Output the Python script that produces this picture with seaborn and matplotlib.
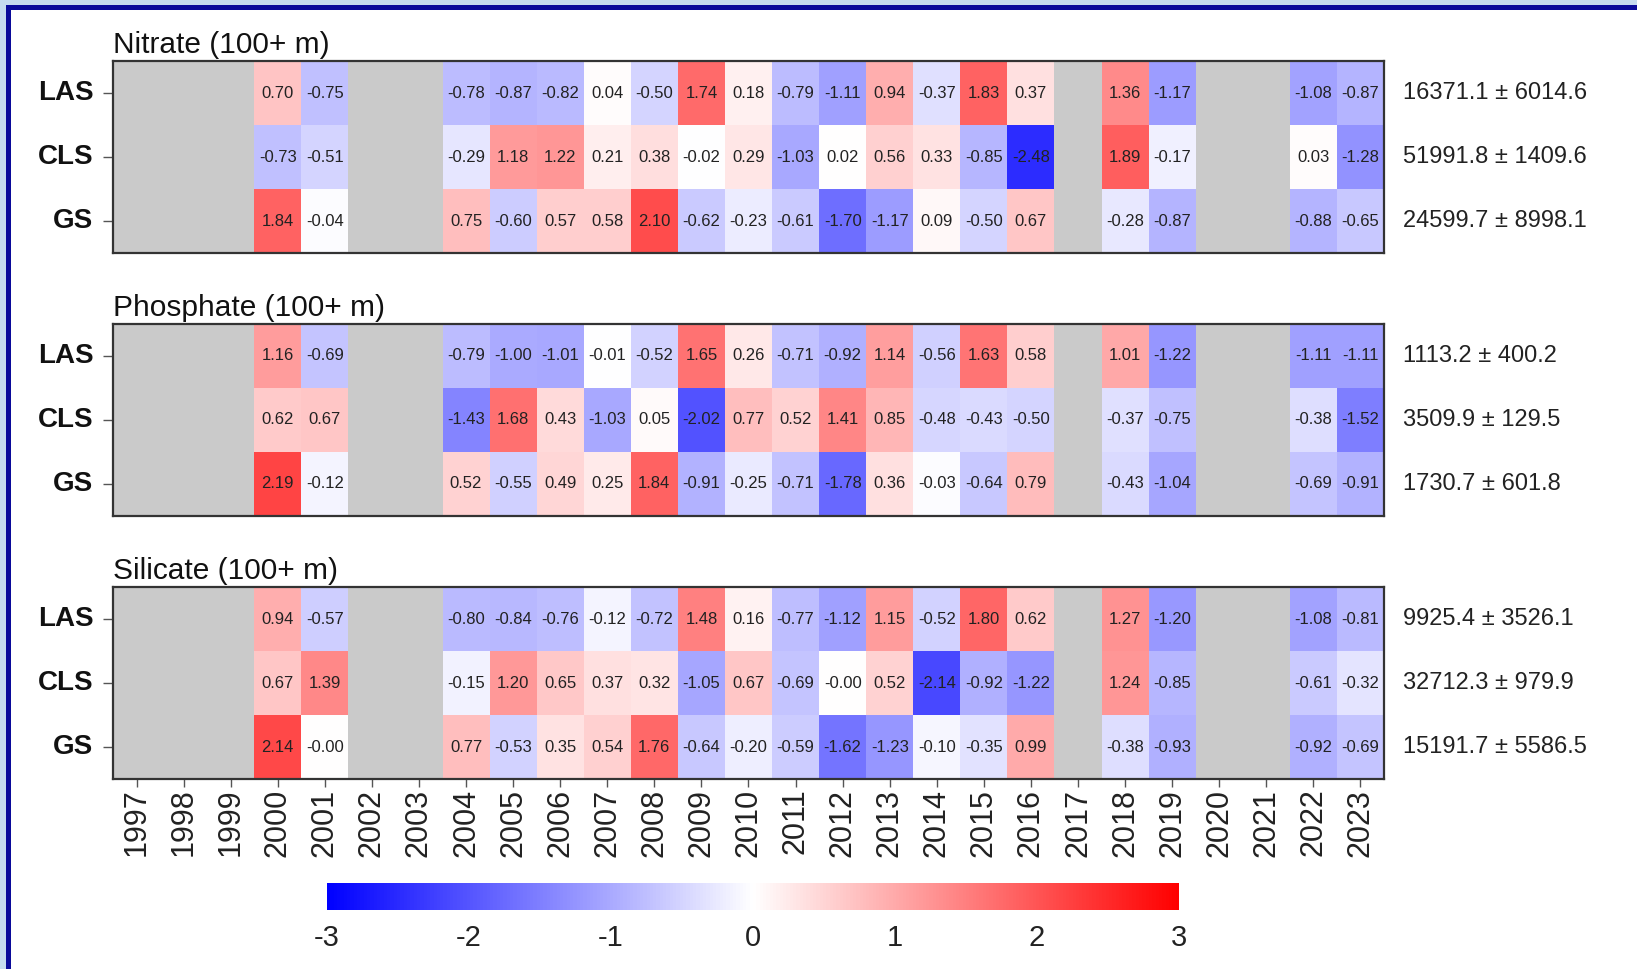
import numpy as np
import pandas as pd
import matplotlib
matplotlib.use("Agg")
import matplotlib.pyplot as plt
from matplotlib.patches import Rectangle
import seaborn as sns

W, H = 1637, 969

YEARS = list(range(1997, 2024))
# years that actually have values (all others are drawn as gray gaps)
MEASURED = [2000, 2001] + list(range(2004, 2017)) + [2018, 2019, 2022, 2023]
REGIONS = ["LAS", "CLS", "GS"]

NITRATE_LAS = [0.70, -0.75, -0.78, -0.87, -0.82, 0.04, -0.50, 1.74, 0.18, -0.79, -1.11, 0.94, -0.37, 1.83, 0.37, 1.36, -1.17, -1.08, -0.87]
NITRATE_CLS = [-0.73, -0.51, -0.29, 1.18, 1.22, 0.21, 0.38, -0.02, 0.29, -1.03, 0.02, 0.56, 0.33, -0.85, -2.48, 1.89, -0.17, 0.03, -1.28]
NITRATE_GS = [1.84, -0.04, 0.75, -0.60, 0.57, 0.58, 2.10, -0.62, -0.23, -0.61, -1.70, -1.17, 0.09, -0.50, 0.67, -0.28, -0.87, -0.88, -0.65]
NITRATE_MEAN = ["16371.1 ± 6014.6", "51991.8 ± 1409.6", "24599.7 ± 8998.1"]

PHOSPHATE_LAS = [1.16, -0.69, -0.79, -1.00, -1.01, -0.01, -0.52, 1.65, 0.26, -0.71, -0.92, 1.14, -0.56, 1.63, 0.58, 1.01, -1.22, -1.11, -1.11]
PHOSPHATE_CLS = [0.62, 0.67, -1.43, 1.68, 0.43, -1.03, 0.05, -2.02, 0.77, 0.52, 1.41, 0.85, -0.48, -0.43, -0.50, -0.37, -0.75, -0.38, -1.52]
PHOSPHATE_GS = [2.19, -0.12, 0.52, -0.55, 0.49, 0.25, 1.84, -0.91, -0.25, -0.71, -1.78, 0.36, -0.03, -0.64, 0.79, -0.43, -1.04, -0.69, -0.91]
PHOSPHATE_MEAN = ["1113.2 ± 400.2", "3509.9 ± 129.5", "1730.7 ± 601.8"]

SILICATE_LAS = [0.94, -0.57, -0.80, -0.84, -0.76, -0.12, -0.72, 1.48, 0.16, -0.77, -1.12, 1.15, -0.52, 1.80, 0.62, 1.27, -1.20, -1.08, -0.81]
SILICATE_CLS = [0.67, 1.39, -0.15, 1.20, 0.65, 0.37, 0.32, -1.05, 0.67, -0.69, -0.0, 0.52, -2.14, -0.92, -1.22, 1.24, -0.85, -0.61, -0.32]
SILICATE_GS = [2.14, -0.0, 0.77, -0.53, 0.35, 0.54, 1.76, -0.64, -0.20, -0.59, -1.62, -1.23, -0.10, -0.35, 0.99, -0.38, -0.93, -0.92, -0.69]
SILICATE_MEAN = ["9925.4 ± 3526.1", "32712.3 ± 979.9", "15191.7 ± 5586.5"]

PANELS = [
    ("Nitrate (100+ m)", [NITRATE_LAS, NITRATE_CLS, NITRATE_GS], NITRATE_MEAN),
    ("Phosphate (100+ m)", [PHOSPHATE_LAS, PHOSPHATE_CLS, PHOSPHATE_GS], PHOSPHATE_MEAN),
    ("Silicate (100+ m)", [SILICATE_LAS, SILICATE_CLS, SILICATE_GS], SILICATE_MEAN),
]

sns.set_theme(style="white")
plt.rcParams["font.family"] = ["Liberation Sans", "DejaVu Sans"]
plt.rcParams["axes.unicode_minus"] = False


def px_axes(fig, x0, y0, x1, y1):
    # pixel box (top-left origin) -> figure fraction
    return fig.add_axes([x0 / W, (H - y1) / H, (x1 - x0) / W, (y1 - y0) / H])


fig = plt.figure(figsize=(W / 100, H / 100), dpi=100)
fig.patch.set_facecolor("#c6dbef")
# white page with a dark blue edge on the top and left, drawn behind the axes
for xy, w, h, c in [((11 / W, 0), 1, (H - 10) / H, "white"),
                    ((6 / W, 0), 5 / W, (H - 5) / H, "#0a0a9a"),
                    ((6 / W, (H - 10) / H), 1, 5 / H, "#0a0a9a")]:
    fig.patches.append(Rectangle(xy, w, h, transform=fig.transFigure,
                                 facecolor=c, edgecolor="none", zorder=-10))

tops = [61, 324, 587]
axes = []
for i, (title, rows, means) in enumerate(PANELS):
    df = pd.DataFrame(rows, index=REGIONS, columns=MEASURED).reindex(columns=YEARS)
    ax = px_axes(fig, 113, tops[i], 1384, tops[i] + 192)
    ax.set_facecolor("#cacaca")
    sns.heatmap(df, ax=ax, cmap="bwr", vmin=-3, vmax=3, annot=True, fmt=".2f",
                annot_kws=dict(size=12, color="#222222"), cbar=False, linewidths=0)
    for s in ax.spines.values():
        s.set_visible(True)
        s.set_color("#333333")
        s.set_linewidth(1.6)
    ax.set_title(title, loc="left", fontsize=21.5, pad=6, color="#111111")
    ax.set_xlabel(""); ax.set_ylabel("")
    ax.set_yticklabels(REGIONS, rotation=0, fontweight="bold", fontsize=20, color="#111111")
    ax.tick_params(axis="y", left=True, length=7, width=1, color="#555555", pad=7)
    if i < 2:
        ax.tick_params(axis="x", bottom=False, labelbottom=False)
    else:
        ax.set_xticklabels(YEARS, rotation=90, fontsize=22, color="#222222")
        ax.tick_params(axis="x", bottom=True, length=6, width=1, color="#555555", pad=1)
    for r, m in enumerate(means):
        ax.text(27.4, r + 0.5, m, ha="left", va="center", fontsize=17,
                color="#222222", clip_on=False)
    axes.append(ax)

cax = px_axes(fig, 327, 883, 1179, 910)
cbar = fig.colorbar(axes[0].collections[0], cax=cax, orientation="horizontal")
cbar.outline.set_visible(False)
cbar.set_ticks([-3, -2, -1, 0, 1, 2, 3])
cax.tick_params(direction="in", color="white", length=6, width=1, labelsize=21,
                pad=10, labelcolor="#222222")

fig.savefig("out.png", dpi=100, facecolor=fig.get_facecolor())
